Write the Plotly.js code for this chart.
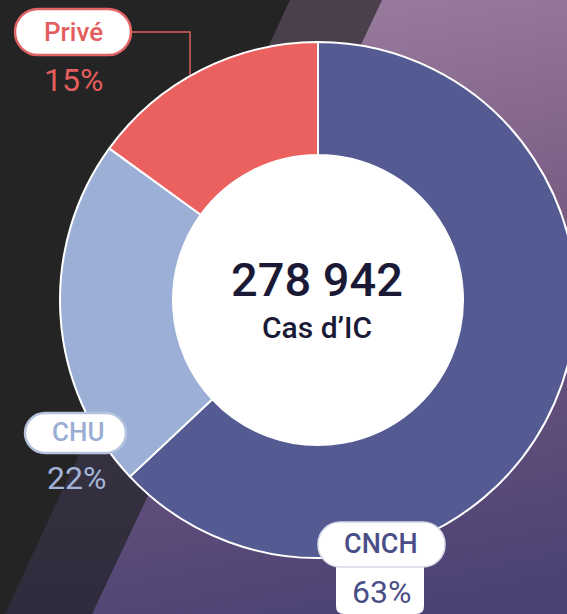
<!DOCTYPE html>
<html>
<head>
<meta charset="utf-8">
<script src="https://cdn.plot.ly/plotly-3.0.1.min.js"></script>
<style>
  html, body { margin: 0; padding: 0; width: 567px; height: 614px; overflow: hidden; background: #242424; }
  #chart { width: 640px; height: 614px; }
</style>
</head>
<body>
<div id="chart"></div>
<script>
// ---- data ----
const categories = ["CNCH", "CHU", "Privé"];
const shares = [63, 22, 15];
const shareLabels = ["63%", "22%", "15%"];
const totalCases = "278 942";
const totalLabel = "Cas d’IC";

// ---- styling ----
const sliceColors = ["#545a92", "#9cb0d7", "#ea615f"];
const W = 640, H = 614;
const px = x => x / W;
const py = y => (H - y) / H;

const cx = 318, cy = 300, R = 258, rHole = 145;

// background as an SVG layer image
const bgSvg =
  `<svg xmlns="http://www.w3.org/2000/svg" width="${W}" height="${H}" viewBox="0 0 ${W} ${H}">` +
  `<defs>` +
  `<linearGradient id="m" x1="0" y1="0" x2="0" y2="1"><stop offset="0" stop-color="#4a414c"/><stop offset="1" stop-color="#2e2b3c"/></linearGradient>` +
  `<linearGradient id="r" gradientUnits="userSpaceOnUse" x1="300" y1="0" x2="420" y2="614"><stop offset="0" stop-color="#9a7c9f"/><stop offset="0.45" stop-color="#76597f"/><stop offset="1" stop-color="#4a4274"/></linearGradient>` +
  `</defs>` +
  `<rect width="${W}" height="${H}" fill="#242424"/>` +
  `<polygon points="290,0 382,0 92,${H} 5,${H}" fill="url(#m)"/>` +
  `<polygon points="382,0 ${W},0 ${W},${H} 92,${H}" fill="url(#r)"/>` +
  `</svg>`;
const bgSrc = "data:image/svg+xml;charset=utf-8," + encodeURIComponent(bgSvg);

function pillPath(x0, y0, x1, y1, r) {
  const k = 0.5523 * r;
  const P = (x, y) => `${px(x)},${py(y)}`;
  return `M ${P(x0 + r, y0)} L ${P(x1 - r, y0)} ` +
    `C ${P(x1 - r + k, y0)} ${P(x1, y0 + r - k)} ${P(x1, y0 + r)} ` +
    `L ${P(x1, y1 - r)} ` +
    `C ${P(x1, y1 - r + k)} ${P(x1 - r + k, y1)} ${P(x1 - r, y1)} ` +
    `L ${P(x0 + r, y1)} ` +
    `C ${P(x0 + r - k, y1)} ${P(x0, y1 - r + k)} ${P(x0, y1 - r)} ` +
    `L ${P(x0, y0 + r)} ` +
    `C ${P(x0, y0 + r - k)} ${P(x0 + r - k, y0)} ${P(x0 + r, y0)} Z`;
}

const trace = {
  type: "pie",
  labels: categories,
  values: shares,
  sort: false,
  direction: "clockwise",
  rotation: 0,
  hole: rHole / R,
  domain: { x: [px(cx - R), px(cx + R)], y: [py(cy + R), py(cy - R)] },
  marker: { colors: sliceColors, line: { color: "#ffffff", width: 2 } },
  textinfo: "none",
  hoverinfo: "none",
  showlegend: false
};

const shapes = [
  // white centre disc
  { type: "circle", xref: "paper", yref: "paper", layer: "below",
    x0: px(cx - rHole - 2), x1: px(cx + rHole + 2), y0: py(cy + rHole + 2), y1: py(cy - rHole - 2),
    fillcolor: "#ffffff", line: { width: 0 } },
  // Privé connector
  { type: "path", xref: "paper", yref: "paper", layer: "below",
    path: `M ${px(131)},${py(32)} L ${px(190)},${py(32)} L ${px(190)},${py(75)}`,
    line: { color: "#d9605e", width: 1.5 } },
  // Privé pill
  { type: "path", xref: "paper", yref: "paper", layer: "above",
    path: pillPath(15, 9, 131, 55, 23), fillcolor: "#ffffff", line: { color: "#e06464", width: 2.5 } },
  // CHU pill
  { type: "path", xref: "paper", yref: "paper", layer: "above",
    path: pillPath(25, 413, 126, 453, 20), fillcolor: "#ffffff", line: { color: "#b4c2de", width: 2.5 } },
  // CNCH value box
  { type: "path", xref: "paper", yref: "paper", layer: "above",
    path: `M ${px(336)},${py(560)} L ${px(424)},${py(560)} L ${px(424)},${py(606)} Q ${px(424)},${py(614)} ${px(416)},${py(614)} L ${px(344)},${py(614)} Q ${px(336)},${py(614)} ${px(336)},${py(606)} Z`,
    fillcolor: "#ffffff", line: { width: 0 } },
  // CNCH pill
  { type: "path", xref: "paper", yref: "paper", layer: "above",
    path: pillPath(318, 522, 445, 567, 22), fillcolor: "#ffffff", line: { color: "#d6d6e6", width: 1.5 } }
];

const ann = (text, x, y, size, color, weight) => ({
  text, xref: "paper", yref: "paper", x: px(x), y: py(y),
  xanchor: "center", yanchor: "middle", showarrow: false,
  font: { family: "Roboto, 'Noto Sans', sans-serif", size, color, weight }
});

const annotations = [
  ann(totalCases, 317, 279, 47, "#1b1a36", 500),
  ann(totalLabel, 317, 327, 30, "#1b1a36", 500),
  ann(categories[2], 73, 32, 26, "#e35d5d", 500),
  ann(shareLabels[2], 73, 80, 32, "#e35d5d", 400),
  ann(categories[1], 78, 432, 26, "#9aadd4", 500),
  ann(shareLabels[1], 76, 478, 32, "#a3b4d8", 400),
  ann(categories[0], 381, 544, 27, "#4a4e86", 500),
  ann(shareLabels[0], 381, 592, 32, "#4a4e86", 400)
];

const layout = {
  width: W, height: H,
  margin: { l: 0, r: 0, t: 0, b: 0, pad: 0 },
  paper_bgcolor: "#242424",
  plot_bgcolor: "rgba(0,0,0,0)",
  showlegend: false,
  images: [{ source: bgSrc, xref: "paper", yref: "paper", x: 0, y: 1, sizex: 1, sizey: 1,
    xanchor: "left", yanchor: "top", sizing: "stretch", layer: "below" }],
  shapes, annotations
};

Plotly.newPlot("chart", [trace], layout, { displayModeBar: false, staticPlot: true });
</script>
</body>
</html>
